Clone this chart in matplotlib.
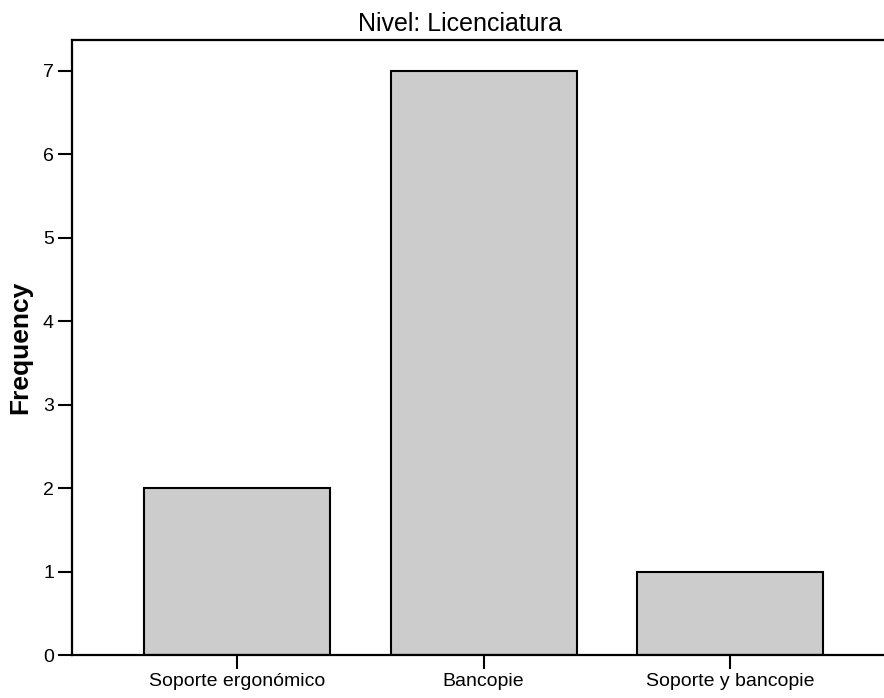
import matplotlib
matplotlib.use('Agg')
from matplotlib import pyplot as plt

categories = ['Soporte ergonómico', 'Bancopie', 'Soporte y bancopie']
frequencies = [2, 7, 1]
title = 'Nivel: Licenciatura'

plt.rcParams['font.family'] = ['Liberation Sans', 'DejaVu Sans']

fig = plt.figure(figsize=(8.84, 6.98), dpi=100)
ax = fig.add_axes([72 / 884, 1 - 655 / 698, 1 - 72 / 884, (655 - 40) / 698])

x = list(range(len(categories)))
ax.bar(x, frequencies, width=0.755, color='#cccccc', edgecolor='black', linewidth=1.5)

ax.set_xlim(-0.67, 2.625)
ax.set_ylim(0, 7.37)
ax.set_xticks(x)
ax.set_xticklabels(categories)
ax.set_yticks(range(8))
ax.tick_params(axis='both', direction='out', length=10, width=1.5, labelsize=14, pad=3)
ax.set_ylabel('Frequency', fontsize=19, fontweight='bold', labelpad=8)

for side in ['left', 'bottom', 'top']:
    ax.spines[side].set_linewidth(1.6)
ax.spines['right'].set_visible(False)

# title sits a bit left of the axes centre in the original
fig.text(460 / 884, 1 - 31 / 698, title, fontsize=18, ha='center', va='baseline')

fig.savefig('out.png', dpi=100)
